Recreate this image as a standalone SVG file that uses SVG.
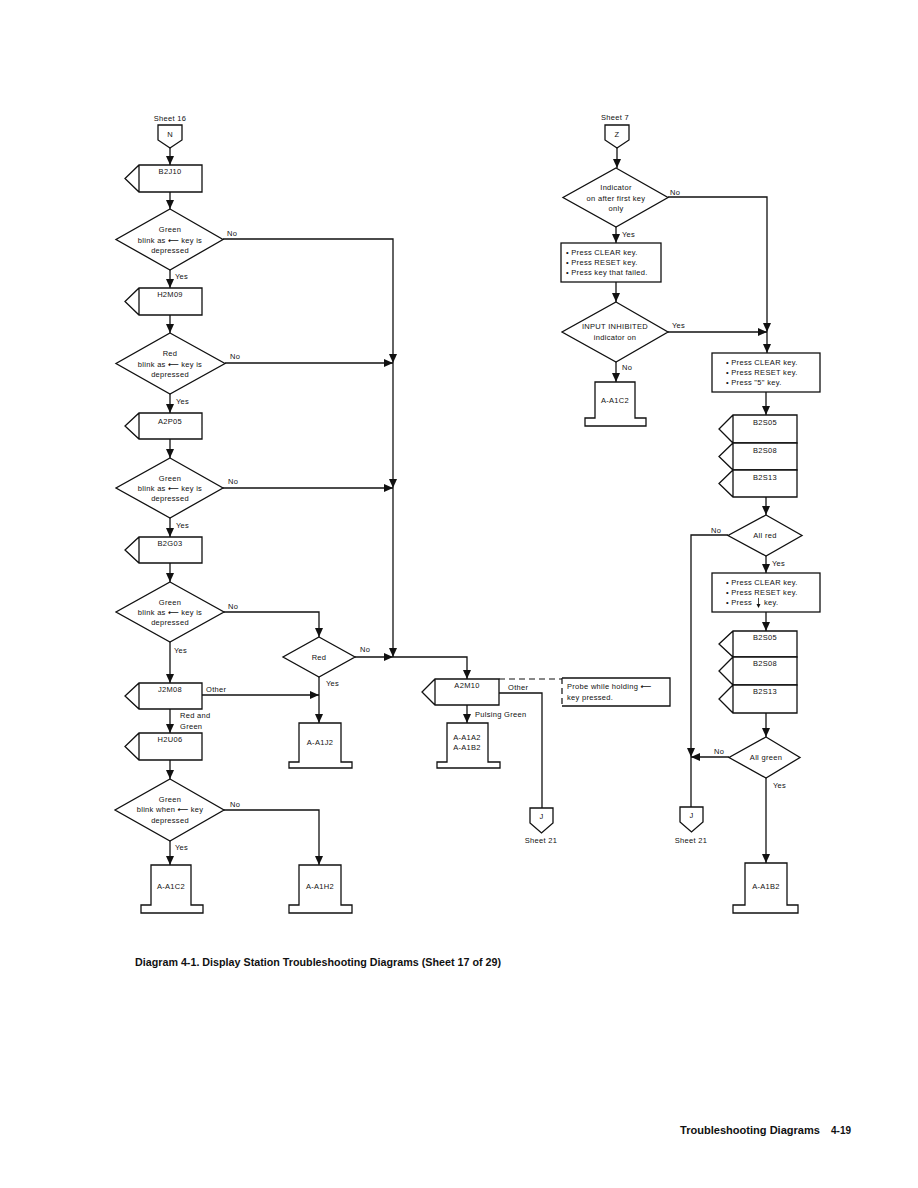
<svg xmlns="http://www.w3.org/2000/svg" width="918" height="1188" viewBox="0 0 918 1188">
<defs>
<marker id="ah" markerUnits="userSpaceOnUse" markerWidth="9" markerHeight="8" refX="9" refY="4" orient="auto">
<path d="M0,0 L9,4 L0,8 z" fill="#111"/>
</marker>
</defs>
<style>
.s{fill:#fff;stroke:#111;stroke-width:1.3}
.c{fill:none;stroke:#111;stroke-width:1.3}
.c2{fill:none;stroke:#111;stroke-width:1.3;marker-end:url(#ah)}
.d{fill:none;stroke:#111;stroke-width:1.2;stroke-dasharray:6,4}
text{font-family:"Liberation Sans",Arial,sans-serif;font-size:7.5px;fill:#111;letter-spacing:0.3px}
.m{text-anchor:middle}
.a{font-family:"DejaVu Sans",sans-serif;font-weight:bold;letter-spacing:0}
.b{font-weight:bold;font-size:10px;letter-spacing:0}
</style>
<rect width="918" height="1188" fill="#fff"/>

<g id="connectors">
<path class="c2" d="M170,148 V165"/>
<path class="c2" d="M170,192 V209"/>
<path class="c2" d="M170,270 V288"/>
<path class="c2" d="M223,239 H393 V363"/>
<path class="c2" d="M170,315 V333"/>
<path class="c2" d="M225,363 H393"/>
<path class="c2" d="M393,363 V488"/>
<path class="c2" d="M170,394 V413"/>
<path class="c2" d="M170,439 V458"/>
<path class="c2" d="M223,488 H393"/>
<path class="c2" d="M393,488 V657"/>
<path class="c2" d="M170,518 V537"/>
<path class="c2" d="M170,563 V582"/>
<path class="c2" d="M224,612 H319 V637"/>
<path class="c2" d="M170,642 V683"/>
<path class="c2" d="M355,657 H393"/>
<path class="c2" d="M393,657 H467 V679"/>
<path class="c2" d="M319,677 V723"/>
<path class="c2" d="M202,695 H319"/>
<path class="c2" d="M170,709 V733"/>
<path class="c2" d="M170,760 V779"/>
<path class="c2" d="M170,841 V865"/>
<path class="c2" d="M224,810 H319 V865"/>
<path class="c2" d="M467,705 V723"/>
<path class="c" d="M499,693 H542 V808"/>
<path class="d" d="M499,679 H562"/>
<path class="c2" d="M617,148 V168"/>
<path class="c2" d="M616,227 V243"/>
<path class="c2" d="M668,197 H767 V332"/>
<path class="c2" d="M616,282 V302"/>
<path class="c2" d="M668,332 H767"/>
<path class="c2" d="M767,332 V353"/>
<path class="c2" d="M616,362 V382"/>
<path class="c2" d="M766,392 V415"/>
<path class="c2" d="M766,497 V515"/>
<path class="c2" d="M728,535 H691 V757"/>
<path class="c2" d="M766,556 V573"/>
<path class="c2" d="M766,612 V631"/>
<path class="c2" d="M766,713 V737"/>
<path class="c2" d="M729,757 H691"/>
<path class="c" d="M691,757 V807"/>
<path class="c2" d="M766,778 V863"/>
<text x="227" y="236">No</text>
<text x="175" y="279">Yes</text>
<text x="230" y="359">No</text>
<text x="176" y="404">Yes</text>
<text x="228" y="484">No</text>
<text x="176" y="528">Yes</text>
<text x="228" y="609">No</text>
<text x="174" y="653">Yes</text>
<text x="360" y="652">No</text>
<text x="326" y="686">Yes</text>
<text x="206" y="692">Other</text>
<text x="180" y="718">Red and</text>
<text x="180" y="729">Green</text>
<text x="175" y="850">Yes</text>
<text x="230" y="807">No</text>
<text x="475" y="717">Pulsing Green</text>
<text x="508" y="690">Other</text>
<text x="622" y="237">Yes</text>
<text x="670" y="195">No</text>
<text x="672" y="328">Yes</text>
<text x="622" y="370">No</text>
<text x="711" y="533">No</text>
<text x="772" y="566">Yes</text>
<text x="714" y="754">No</text>
<text x="773" y="788">Yes</text>
</g>

<g id="n-N">
<text class="m" x="170" y="121">Sheet 16</text>
<path class="s" d="M158,125 H182 V140 L170,148 L158,140 Z"/>
<text class="m" x="170" y="137">N</text>
</g>
<g id="n-B2J10">
<path class="s" d="M139,165 H202 V192 H139 L125,178.5 L139,165 Z M139,165 V192"/>
<text class="m" x="170" y="174">B2J10</text>
</g>
<g id="n-d1">
<path class="s" d="M170,209 L223,239.5 L170,270 L116,239.5 Z"/>
<text class="m" x="170" y="232">Green</text>
<text class="m" x="170" y="243">blink as <tspan class="a">⟵</tspan> key is</text>
<text class="m" x="170" y="253">depressed</text>
</g>
<g id="n-H2M09">
<path class="s" d="M139,288 H202 V315 H139 L125,301.5 L139,288 Z M139,288 V315"/>
<text class="m" x="170" y="297">H2M09</text>
</g>
<g id="n-d2">
<path class="s" d="M170,333 L225,363.5 L170,394 L116,363.5 Z"/>
<text class="m" x="170" y="356">Red</text>
<text class="m" x="170" y="367">blink as <tspan class="a">⟵</tspan> key is</text>
<text class="m" x="170" y="377">depressed</text>
</g>
<g id="n-A2P05">
<path class="s" d="M139,413 H202 V439 H139 L125,426 L139,413 Z M139,413 V439"/>
<text class="m" x="170" y="424">A2P05</text>
</g>
<g id="n-d3">
<path class="s" d="M170,458 L223,488 L170,518 L116,488 Z"/>
<text class="m" x="170" y="481">Green</text>
<text class="m" x="170" y="491">blink as <tspan class="a">⟵</tspan> key is</text>
<text class="m" x="170" y="501">depressed</text>
</g>
<g id="n-B2G03">
<path class="s" d="M139,537 H202 V563 H139 L125,550 L139,537 Z M139,537 V563"/>
<text class="m" x="170" y="546">B2G03</text>
</g>
<g id="n-d4">
<path class="s" d="M170,582 L224,612 L170,642 L116,612 Z"/>
<text class="m" x="170" y="605">Green</text>
<text class="m" x="170" y="615">blink as <tspan class="a">⟵</tspan> key is</text>
<text class="m" x="170" y="625">depressed</text>
</g>
<g id="n-J2M08">
<path class="s" d="M139,683 H202 V709 H139 L125,696 L139,683 Z M139,683 V709"/>
<text class="m" x="170" y="692">J2M08</text>
</g>
<g id="n-H2U06">
<path class="s" d="M139,733 H202 V760 H139 L125,746.5 L139,733 Z M139,733 V760"/>
<text class="m" x="170" y="742">H2U06</text>
</g>
<g id="n-d5">
<path class="s" d="M170,779 L224,810 L170,841 L115,810 Z"/>
<text class="m" x="170" y="802">Green</text>
<text class="m" x="170" y="812">blink when <tspan class="a">⟵</tspan> key</text>
<text class="m" x="170" y="823">depressed</text>
</g>
<g id="n-AA1C2">
<path class="s" d="M151,865 H191 V905 H203 V913 H141 V905 H151 Z"/>
<text class="m" x="171" y="889">A-A1C2</text>
</g>
<g id="n-red">
<path class="s" d="M319,637 L355,657 L319,677 L283,657 Z"/>
<text class="m" x="319" y="660">Red</text>
</g>
<g id="n-AA1J2">
<path class="s" d="M299,723 H341 V762 H352 V768 H289 V762 H299 Z"/>
<text class="m" x="320" y="745">A-A1J2</text>
</g>
<g id="n-AA1H2">
<path class="s" d="M299,865 H341 V905 H352 V913 H289 V905 H299 Z"/>
<text class="m" x="320" y="889">A-A1H2</text>
</g>
<g id="n-A2M10">
<path class="s" d="M435,679 H499 V705 H435 L422,692 L435,679 Z M435,679 V705"/>
<text class="m" x="467" y="688">A2M10</text>
</g>
<g id="n-note">
<path class="c" d="M562,678 H670 V706 H562"/>
<path class="d" d="M562,678 V706"/>
<text x="567" y="689">Probe while holding <tspan class="a">⟵</tspan></text>
<text x="567" y="700">key pressed.</text>
</g>
<g id="n-AA1A2">
<path class="s" d="M447,723 H488 V762 H500 V768 H437 V762 H447 Z"/>
<text class="m" x="467" y="740">A-A1A2</text>
<text class="m" x="467" y="750">A-A1B2</text>
</g>
<g id="n-J1">
<path class="s" d="M530,808 H553 V823 L541.5,833 L530,823 Z"/>
<text class="m" x="541.5" y="819">J</text>
<text class="m" x="541" y="843">Sheet 21</text>
</g>

<g id="n-Z">
<text class="m" x="615" y="120">Sheet 7</text>
<path class="s" d="M605,125 H629 V140 L617,148 L605,140 Z"/>
<text class="m" x="617" y="137">Z</text>
</g>
<g id="n-dz1">
<path class="s" d="M616,168 L668,197.5 L616,227 L563,197.5 Z"/>
<text class="m" x="616" y="190">Indicator</text>
<text class="m" x="616" y="201">on after first key</text>
<text class="m" x="616" y="211">only</text>
</g>
<g id="n-box1">
<rect class="s" x="561" y="243" width="100" height="39"/>
<text x="566" y="255">•  Press CLEAR key.</text>
<text x="566" y="265">•  Press RESET key.</text>
<text x="566" y="275">•  Press key that failed.</text>
</g>
<g id="n-dz2">
<path class="s" d="M616,302 L668,332 L616,362 L562,332 Z"/>
<text class="m" x="615" y="329">INPUT INHIBITED</text>
<text class="m" x="615" y="340">indicator on</text>
</g>
<g id="n-AA1C2b">
<path class="s" d="M595,382 H635 V418 H646 V426 H585 V418 H595 Z"/>
<text class="m" x="615" y="403">A-A1C2</text>
</g>
<g id="n-box2">
<rect class="s" x="712" y="353" width="108" height="39"/>
<text x="726" y="365">•  Press CLEAR key.</text>
<text x="726" y="375">•  Press RESET key.</text>
<text x="726" y="385">•  Press "5" key.</text>
</g>
<g id="n-B2S05a">
<path class="s" d="M733,415 H797 V443 H733 L719,429 L733,415 Z M733,415 V443"/>
<text class="m" x="765" y="425">B2S05</text>
</g>
<g id="n-B2S08a">
<path class="s" d="M733,443 H797 V470 H733 L719,456.5 L733,443 Z M733,443 V470"/>
<text class="m" x="765" y="453">B2S08</text>
</g>
<g id="n-B2S13a">
<path class="s" d="M733,470 H797 V497 H733 L719,483.5 L733,470 Z M733,470 V497"/>
<text class="m" x="765" y="480">B2S13</text>
</g>
<g id="n-allred">
<path class="s" d="M766,515 L802,535.5 L766,556 L728,535.5 Z"/>
<text class="m" x="765" y="538">All red</text>
</g>
<g id="n-box3">
<rect class="s" x="712" y="573" width="108" height="39"/>
<text x="726" y="585">•  Press CLEAR key.</text>
<text x="726" y="595">•  Press RESET key.</text>
<text x="726" y="605">•  Press</text>
<text x="764" y="605">key.</text>
<path d="M758.5,598 V607" stroke="#111" stroke-width="0.8"/>
<path d="M756.5,604 L758.5,608 L760.5,604 Z" fill="#111"/>
</g>
<g id="n-B2S05b">
<path class="s" d="M733,631 H797 V657 H733 L719,644 L733,631 Z M733,631 V657"/>
<text class="m" x="765" y="640">B2S05</text>
</g>
<g id="n-B2S08b">
<path class="s" d="M733,657 H797 V685 H733 L719,671 L733,657 Z M733,657 V685"/>
<text class="m" x="765" y="666">B2S08</text>
</g>
<g id="n-B2S13b">
<path class="s" d="M733,685 H797 V713 H733 L719,699 L733,685 Z M733,685 V713"/>
<text class="m" x="765" y="694">B2S13</text>
</g>
<g id="n-allgreen">
<path class="s" d="M766,737 L800,757.5 L766,778 L729,757.5 Z"/>
<text class="m" x="766" y="760">All green</text>
</g>
<g id="n-J2">
<path class="s" d="M680,807 H703 V822 L691.5,832 L680,822 Z"/>
<text class="m" x="691.5" y="818">J</text>
<text class="m" x="691" y="843">Sheet 21</text>
</g>
<g id="n-AA1B2">
<path class="s" d="M745,863 H787 V905 H798 V913 H733 V905 H745 Z"/>
<text class="m" x="766" y="889">A-A1B2</text>
</g>

<text class="b" x="135" y="966" textLength="366" lengthAdjust="spacingAndGlyphs">Diagram 4-1.  Display Station Troubleshooting Diagrams (Sheet 17 of 29)</text>
<text class="b" x="680" y="1134" textLength="140" lengthAdjust="spacingAndGlyphs">Troubleshooting Diagrams</text>
<text class="b" x="831" y="1134">4-19</text>
</svg>
